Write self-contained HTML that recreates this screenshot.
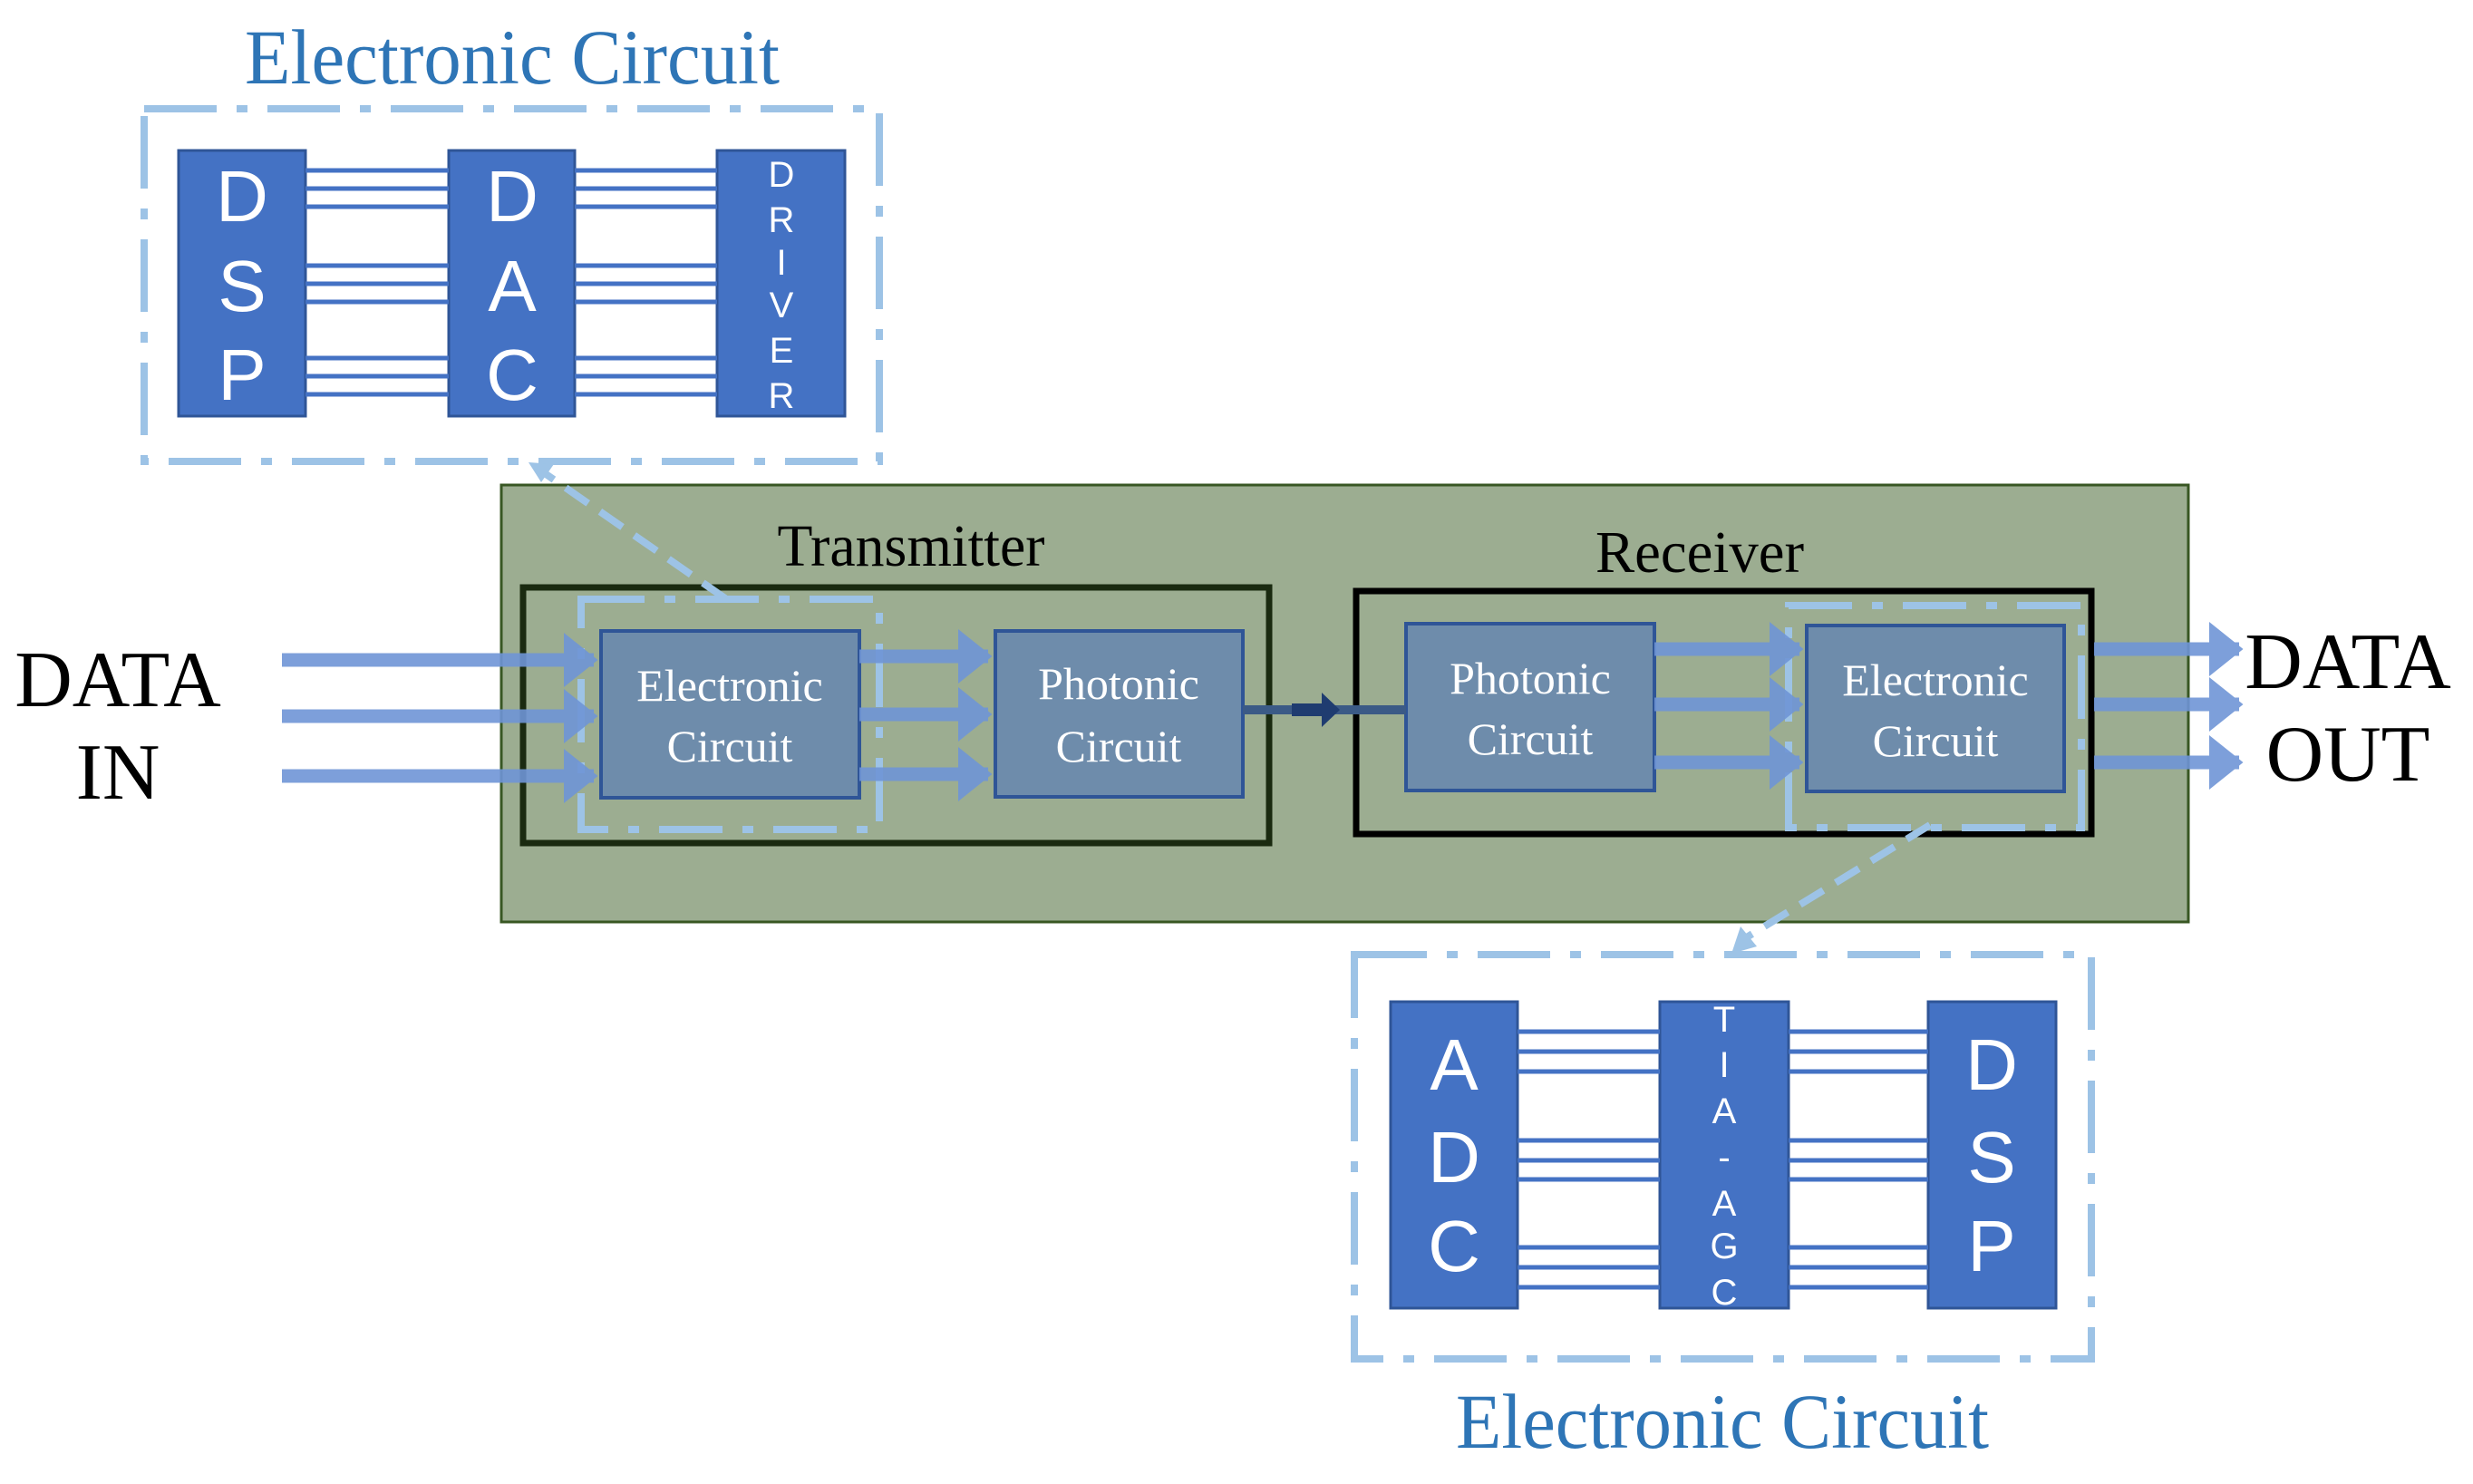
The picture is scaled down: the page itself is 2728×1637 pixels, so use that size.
<!DOCTYPE html>
<html><head><meta charset="utf-8"><style>html,body{margin:0;padding:0;background:#fff;}svg{display:block}</style></head>
<body>
<svg width="2728" height="1637" viewBox="0 0 2728 1637" xmlns="http://www.w3.org/2000/svg">
<defs>
<marker id="ah" markerWidth="4" markerHeight="4" refX="2.2" refY="2" orient="auto" markerUnits="strokeWidth"><path d="M0,0 L2.5,2 L0,4 z" fill="#6f95d6"/></marker>
</defs>

<!-- top electronic circuit -->
<text x="565" y="92" font-family="Liberation Serif, serif" font-size="86" fill="#2e75b6" text-anchor="middle" textLength="590" lengthAdjust="spacingAndGlyphs">Electronic Circuit</text>
<rect x="159" y="120" width="811" height="389" fill="none" stroke="#9dc3e6" stroke-width="8" stroke-dasharray="80,22,12,22"/>
<g fill="#4472c4" stroke="#2f5597" stroke-width="3">
<rect x="197" y="166" width="140" height="293"/>
<rect x="495" y="166" width="139" height="293"/>
<rect x="791" y="166" width="141" height="293"/>
</g>
<g stroke="#4472c4" stroke-width="5">
<path d="M337 188H495M337 208H495M337 228H495M337 293H495M337 313H495M337 333H495M337 395H495M337 415H495M337 435H495"/>
<path d="M634 188H791M634 208H791M634 228H791M634 293H791M634 313H791M634 333H791M634 395H791M634 415H791M634 435H791"/>
</g>
<g font-family="Liberation Sans, sans-serif" fill="#fff" text-anchor="middle" font-size="80">
<text x="267" y="244">D</text><text x="267" y="343">S</text><text x="267" y="441">P</text>
<text x="565" y="244">D</text><text x="565" y="343">A</text><text x="565" y="441">C</text>
</g>
<g font-family="Liberation Sans, sans-serif" fill="#fff" text-anchor="middle" font-size="40">
<text x="862" y="206">D</text><text x="862" y="256">R</text><text x="862" y="303">I</text><text x="862" y="350">V</text><text x="862" y="400">E</text><text x="862" y="450">R</text>
</g>

<!-- green main -->
<rect x="553" y="535" width="1861" height="482" fill="#9cad91" stroke="#385723" stroke-width="3"/>
<text x="1005" y="624" font-family="Liberation Serif, serif" font-size="66" text-anchor="middle" fill="#000" textLength="295" lengthAdjust="spacingAndGlyphs">Transmitter</text>
<text x="1875" y="631" font-family="Liberation Serif, serif" font-size="66" text-anchor="middle" fill="#000" textLength="230" lengthAdjust="spacingAndGlyphs">Receiver</text>
<rect x="577" y="648" width="823" height="282" fill="none" stroke="#1a2a10" stroke-width="7"/>
<rect x="1496" y="652" width="811" height="268" fill="none" stroke="#000" stroke-width="7"/>

<!-- Tx boxes -->
<rect x="663" y="696" width="285" height="184" fill="#6e8cab" stroke="#2f5597" stroke-width="4"/>
<rect x="1098" y="696" width="273" height="183" fill="#6e8cab" stroke="#2f5597" stroke-width="4"/>
<g font-family="Liberation Serif, serif" font-size="50" fill="#fff" text-anchor="middle">
<text x="805" y="773">Electronic</text><text x="805" y="840">Circuit</text>
<text x="1234" y="771">Photonic</text><text x="1234" y="840">Circuit</text>
</g>
<rect x="641" y="661" width="329" height="254" fill="none" stroke="#9dc3e6" stroke-width="8" stroke-dasharray="70,22,12,22"/>

<!-- Rx boxes -->
<rect x="1551" y="688" width="274" height="184" fill="#6e8cab" stroke="#2f5597" stroke-width="4"/>
<rect x="1993" y="690" width="284" height="183" fill="#6e8cab" stroke="#2f5597" stroke-width="4"/>
<g font-family="Liberation Serif, serif" font-size="50" fill="#fff" text-anchor="middle">
<text x="1688" y="765">Photonic</text><text x="1688" y="832">Circuit</text>
<text x="2135" y="767">Electronic</text><text x="2135" y="834">Circuit</text>
</g>
<rect x="1973" y="668" width="323" height="245" fill="none" stroke="#9dc3e6" stroke-width="8" stroke-dasharray="70,22,12,22"/>

<!-- photonic link -->
<path d="M1371 783H1551" stroke="#3b5a86" stroke-width="10"/>
<path d="M1425 776H1458V764L1478 783L1458 802V790H1425z" fill="#1f3c70"/>

<!-- arrows -->
<g stroke="#6f95d6" stroke-width="15" opacity="0.9" fill="none">
<path d="M311 728H655" marker-end="url(#ah)"/>
<path d="M311 790H655" marker-end="url(#ah)"/>
<path d="M311 856H655" marker-end="url(#ah)"/>
<path d="M948 724H1090" marker-end="url(#ah)"/>
<path d="M948 788H1090" marker-end="url(#ah)"/>
<path d="M948 854H1090" marker-end="url(#ah)"/>
<path d="M1825 716H1985" marker-end="url(#ah)"/>
<path d="M1825 777H1985" marker-end="url(#ah)"/>
<path d="M1825 841H1985" marker-end="url(#ah)"/>
<path d="M2310 716H2470" marker-end="url(#ah)"/>
<path d="M2310 777H2470" marker-end="url(#ah)"/>
<path d="M2310 841H2470" marker-end="url(#ah)"/>
</g>

<g font-family="Liberation Serif, serif" font-size="88" fill="#000" text-anchor="middle">
<text x="130" y="779">DATA</text><text x="130" y="881">IN</text>
<text x="2590" y="759">DATA</text><text x="2590" y="861">OUT</text>
</g>

<!-- dashed connectors -->
<path d="M800 660L595 518" stroke="#9dc3e6" stroke-width="8" stroke-dasharray="30,16" fill="none"/>
<path d="M583 510l28 2-14 20z" fill="#9dc3e6"/>
<path d="M2129 910L1925 1035" stroke="#9dc3e6" stroke-width="8" stroke-dasharray="30,16" fill="none"/>
<path d="M1910 1052l10-30 18 22z" fill="#9dc3e6"/>

<!-- bottom electronic circuit -->
<rect x="1494" y="1053" width="813" height="446" fill="none" stroke="#9dc3e6" stroke-width="8" stroke-dasharray="80,22,12,22"/>
<g fill="#4472c4" stroke="#2f5597" stroke-width="3">
<rect x="1534" y="1105" width="140" height="338"/>
<rect x="1831" y="1105" width="142" height="338"/>
<rect x="2127" y="1105" width="141" height="338"/>
</g>
<g stroke="#4472c4" stroke-width="5">
<path d="M1674 1138H1831M1674 1160H1831M1674 1182H1831M1674 1258H1831M1674 1280H1831M1674 1301H1831M1674 1376H1831M1674 1398H1831M1674 1420H1831"/>
<path d="M1973 1138H2127M1973 1160H2127M1973 1182H2127M1973 1258H2127M1973 1280H2127M1973 1301H2127M1973 1376H2127M1973 1398H2127M1973 1420H2127"/>
</g>
<g font-family="Liberation Sans, sans-serif" fill="#fff" text-anchor="middle" font-size="80">
<text x="1604" y="1202">A</text><text x="1604" y="1304">D</text><text x="1604" y="1402">C</text>
<text x="2197" y="1202">D</text><text x="2197" y="1304">S</text><text x="2197" y="1402">P</text>
</g>
<g font-family="Liberation Sans, sans-serif" fill="#fff" text-anchor="middle" font-size="40">
<text x="1902" y="1138">T</text><text x="1902" y="1188">I</text><text x="1902" y="1239">A</text><text x="1902" y="1290">-</text><text x="1902" y="1341">A</text><text x="1902" y="1388">G</text><text x="1902" y="1439">C</text>
</g>
<text x="1900" y="1597" font-family="Liberation Serif, serif" font-size="86" fill="#2e75b6" text-anchor="middle" textLength="588" lengthAdjust="spacingAndGlyphs">Electronic Circuit</text>
</svg>
</body></html>
